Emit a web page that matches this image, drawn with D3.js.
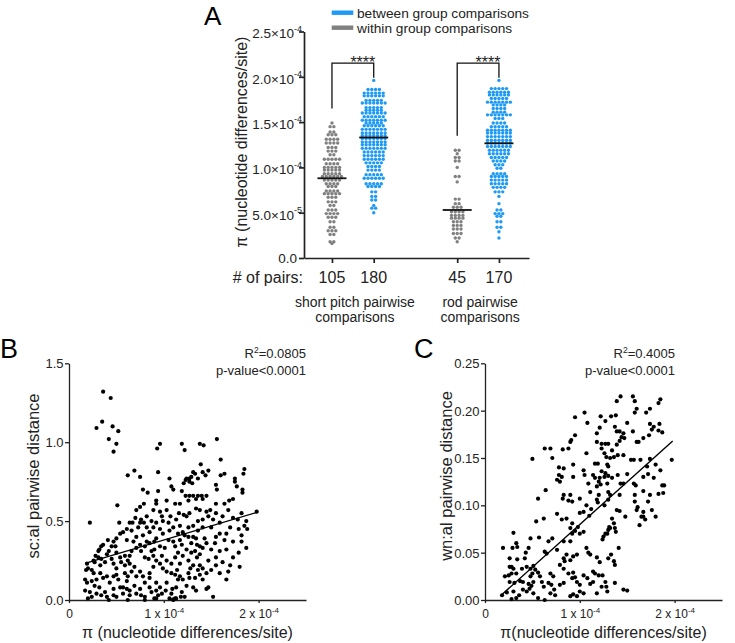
<!DOCTYPE html>
<html><head><meta charset="utf-8">
<script src="https://cdn.jsdelivr.net/npm/d3@7"></script>
<style>body{margin:0;background:#fff}svg{display:block}</style>
</head><body><svg id="c" width="735" height="643"></svg>
<script>
// ---------------- DATA ----------------
// Panel A: π values in units of 1e-6 nucleotide differences/site
const spWithin = [149,145,145,139,139,136,136,136,131,131,131,131,127,127,127,127,122,122,122,118,118,118,114,114,
109,109,109,109,109,104,104,104,104,100,100,100,100,100,97,97,97,97,97,93,93,93,93,93,90,90,90,90,90,90,
86,86,86,86,86,82,82,82,82,79,79,79,74,74,74,74,71,71,71,71,71,67,67,67,62,62,62,58,58,53,53,53,
49,49,49,49,45,45,45,40,40,34,34,30,30,30,26,26,18,18,16];
const spBetween = [196,186,186,186,186,182,182,182,182,182,182,179,179,179,179,179,179,174,174,174,174,174,
171,171,171,171,171,171,171,166,166,166,166,166,163,163,163,163,163,160,160,160,160,160,160,160,
156,156,156,156,156,156,152,152,152,152,152,152,152,149,149,149,149,149,146,146,146,146,146,146,
142,142,142,142,142,142,142,138,138,138,138,138,138,138,135,135,135,135,135,135,135,
132,132,132,132,132,132,132,128,128,128,128,128,128,128,125,125,125,125,125,125,125,
121,121,121,121,121,121,121,117,117,117,117,117,117,113,113,113,113,113,113,109,109,109,109,109,109,
105,105,105,105,105,101,101,101,101,97,97,97,97,92,92,92,92,92,88,88,88,88,88,88,
82,82,82,82,82,79,79,79,79,73,73,68,68,64,64,58,55,55,50];
const rodWithin = [119,119,115,111,111,107,107,100,90,90,84,65,65,60,60,56,56,56,51,51,51,51,47,47,47,47,
44,44,44,44,40,40,40,36,36,36,32,32,32,27,27,27,22,22,18];
const rodBetween = [196,187,187,187,187,187,183,183,183,183,183,183,180,180,180,180,180,180,176,176,176,176,176,
172,172,172,172,172,172,172,169,169,169,169,165,165,165,165,161,161,161,161,158,158,158,158,158,158,158,
154,154,154,149,149,149,149,145,145,145,145,145,141,141,141,141,141,141,141,138,138,138,138,138,138,138,
134,134,134,134,134,134,134,130,130,130,130,130,130,130,127,127,127,127,127,127,127,123,123,123,123,123,123,123,
119,119,119,119,119,119,115,115,115,115,115,115,111,111,111,111,111,107,107,107,107,103,103,103,99,99,
93,93,93,93,90,90,90,90,90,86,86,86,86,86,82,82,82,82,82,78,78,78,78,73,73,73,68,60,53,53,49,49,49,46,46,40,40,34,34,29,22];
const groupsA = [spWithin, spBetween, rodWithin, rodBetween];
const groupPos = [1, 2, 4, 5];
const groupKind = ["within", "between", "within", "between"];
const meansA = [88, 133, 53, 126.6];
const yTicksA = [0, 50, 100, 150, 200, 250];
const yTickLabelsA = [["0.0",""],["5.0×10","-5"],["1.0×10","-4"],["1.5×10","-4"],["2.0×10","-4"],["2.5×10","-4"]];
const categoryLabels = [["short pitch pairwise","comparisons"],["rod pairwise","comparisons"]];
const categoryCenters = [1.55, 4.55];
const legendItems = [["between group comparisons","between"],["within group comparisons","within"]];
const brackets = [{a:0,b:1,low:[165,199],top:215},{a:2,b:3,low:[135,199],top:215}];

// Panel B: [π (1e-6), sc:al pairwise distance]
const scatterB = [[36,1.32],[44,1.28],[35,1.13],[29,1.09],[46,1.10],[52,1.07],[42,1.02],[50,0.99],[47,0.94],[62,0.79],[69,0.82],[75,0.78],[93,0.96],[96,0.99],[94,0.81],[106,0.77],[119,0.99],[122,0.95],[138,0.99],[142,0.98],[156,1.02],[160,0.89],[139,0.86],[141,0.81],[147,0.82],[144,0.79],[131,0.81],[133,0.80],[124,0.77],[127,0.77],[129,0.78],[136,0.77],[164,0.80],[160,0.79],[175,0.77],[184,0.80],[185,0.83],
[108,0.72],[121,0.74],[123,0.76],[127,0.75],[130,0.74],[78,0.70],[94,0.69],[83,0.68],[110,0.70],[119,0.69],[123,0.66],[127,0.66],[131,0.66],[136,0.66],[140,0.66],[145,0.66],[155,0.73],[156,0.70],[175,0.75],[177,0.72],[183,0.70],[183,0.68],[169,0.63],[173,0.64],[164,0.61],[155,0.61],[141,0.64],[134,0.64],[126,0.63],[117,0.61],[112,0.61],[103,0.63],[92,0.63],[92,0.61],[79,0.61],[75,0.59],[71,0.57],[51,0.60],
[22,0.49],[53,0.49],[64,0.49],[67,0.49],[76,0.51],[79,0.49],[82,0.53],[87,0.50],[89,0.57],[96,0.56],[103,0.57],[107,0.53],[113,0.51],[116,0.55],[121,0.54],[124,0.53],[127,0.55],[134,0.58],[138,0.57],[145,0.56],[149,0.57],[155,0.55],[162,0.53],[168,0.57],[173,0.52],[178,0.51],[182,0.55],[187,0.50],[198,0.56],[185,0.47],[179,0.45],[188,0.45],[182,0.41],[173,0.37],[182,0.37],[187,0.33],[180,0.21],[166,0.32],[155,0.40],[159,0.42],[150,0.46],[141,0.46],[136,0.44],[131,0.40],[134,0.39],[129,0.36],[135,0.35],[138,0.34],[141,0.33],[126,0.40],[120,0.43],[122,0.41],[115,0.42],[110,0.46],[105,0.49],[106,0.44],[99,0.42],[96,0.45],[92,0.39],[90,0.37],[85,0.43],[82,0.37],[85,0.36],[80,0.34],[75,0.35],[71,0.33],[66,0.31],[64,0.28],[61,0.38],[54,0.42],[41,0.38],[45,0.34],[49,0.34],[42,0.31],[32,0.32],[31,0.31],[28,0.28],[26,0.25],[27,0.24],[19,0.23],[20,0.20],[18,0.19],[24,0.19],[33,0.22],[38,0.24],[45,0.26],[47,0.23],[50,0.20],[55,0.24],[59,0.22],[64,0.23],[69,0.21],[75,0.18],[78,0.15],[85,0.17],[85,0.14],[89,0.21],[96,0.23],[98,0.28],[101,0.33],[103,0.25],[108,0.23],[112,0.27],[114,0.19],[117,0.23],[120,0.28],[124,0.32],[126,0.25],[128,0.20],[131,0.22],[135,0.27],[138,0.22],[141,0.20],[147,0.25],[155,0.27],[159,0.17],[166,0.13],[168,0.18],[173,0.27],[179,0.30],
[17,0.13],[19,0.11],[24,0.12],[17,0.06],[22,0.05],[27,0.09],[29,0.04],[34,0.03],[38,0.05],[40,0.02],[43,0.11],[47,0.07],[52,0.13],[54,0.08],[57,0.04],[61,0.12],[64,0.06],[64,0.03],[69,0.09],[75,0.07],[80,0.11],[85,0.08],[87,0.05],[92,0.11],[92,0.06],[94,0.03],[92,0.01],[96,0.08],[98,0.04],[103,0.11],[102,0.06],[108,0.04],[112,0.01],[109,0.07],[113,0.08],[115,0.13],[119,0.05],[122,0.02],[124,0.09],[127,0.14],[131,0.08],[134,0.06],[136,0.19],[138,0.16],[145,0.07],[147,0.08],[152,0.02],[106,0.01],[110,0.004],
[26,0.17],[33,0.17],[36,0.14],[40,0.15],[29,0.13],[32,0.08],[47,0.15],[50,0.16],[59,0.17],[62,0.15],[66,0.18],[71,0.15],[57,0.08],[61,0.07],[71,0.04],[76,0.03],[80,0.02],[47,0.03],[50,0.02],[24,0.02],[20,0.01],
[66,0.44],[73,0.46],[78,0.41],[71,0.40],[68,0.37],[87,0.31],[90,0.32],[96,0.34],[105,0.38],[110,0.37],[112,0.34],[115,0.30],[119,0.35],[117,0.38],[129,0.30],[133,0.31],[138,0.29],[143,0.39],[145,0.36],[150,0.32],[154,0.36],[159,0.31],[164,0.38],[166,0.42],[170,0.46],[159,0.49],[152,0.51],[147,0.53],[141,0.51],[136,0.50],[131,0.47],[126,0.46],[117,0.47],[99,0.50],[98,0.53],[92,0.49],[89,0.46],[82,0.46],[75,0.49],[70,0.52],[61,0.45],[57,0.43],[50,0.39],[47,0.37],[36,0.35],[34,0.34],[31,0.27],[34,0.26],[40,0.29],[50,0.30],[54,0.27],[59,0.28],[62,0.25],[76,0.31],[80,0.27],[84,0.26],[89,0.28],[92,0.25],[99,0.20],[103,0.18],[108,0.17],[112,0.16],[117,0.15],[120,0.13],[126,0.17],[133,0.14],[141,0.13],[145,0.17],[150,0.19],[155,0.22],[162,0.24],[170,0.22],
[80,0.0],[90,0.01],[110,0.0],[113,0.01],[118,0.02],[42,0.0],[62,0.0]];
const fitB = [[17,0.232],[198,0.555]];

// Panel C: [π (1e-6), wn:al pairwise distance]
const scatterC = [[143,0.215],[139,0.210],[156,0.215],[158,0.210],[160,0.202],[158,0.198],[170,0.198],[174,0.202],[185,0.212],[183,0.208],[105,0.198],[95,0.193],[108,0.187],[122,0.194],[127,0.189],[121,0.182],[133,0.194],[138,0.195],[150,0.187],[137,0.183],[139,0.178],[142,0.178],[146,0.176],[144,0.172],[156,0.178],[167,0.171],[173,0.174],[174,0.186],[178,0.183],[176,0.180],[184,0.186],[183,0.179],[187,0.177],[118,0.176],[123,0.165],[127,0.165],[130,0.165],[118,0.167],[160,0.167],[162,0.167],[95,0.174],[90,0.167],[91,0.169],[63,0.160],[69,0.160],[82,0.159],[88,0.160],[107,0.155],[123,0.160],[126,0.155],[128,0.151],[134,0.158],[139,0.164],[142,0.168],[147,0.171],[132,0.150],[136,0.151],[140,0.153],[146,0.153],[154,0.148],[157,0.148],[164,0.148],[50,0.149],[71,0.150],[197,0.148],[174,0.149],[180,0.143],[171,0.141],[185,0.137],[78,0.140],[83,0.139],[93,0.143],[116,0.144],[119,0.144],[78,0.132],[81,0.130],[76,0.127],[79,0.125],[93,0.130],[104,0.137],[105,0.132],[114,0.132],[116,0.129],[123,0.136],[127,0.134],[121,0.129],[126,0.130],[130,0.131],[134,0.129],[129,0.143],[130,0.141],[122,0.122],[120,0.125],[129,0.123],[140,0.132],[143,0.123],[146,0.123],[150,0.133],[157,0.123],[159,0.121],[167,0.130],[172,0.133],[178,0.129],[187,0.121],[189,0.121],[64,0.116],[83,0.111],[90,0.111],[109,0.123],[111,0.114],[118,0.120],[120,0.111],[130,0.114],[132,0.111],[142,0.111],[158,0.111],[167,0.115],[174,0.111],[183,0.112],[188,0.113],[56,0.107],
[82,0.107],[88,0.105],[92,0.104],[100,0.107],[107,0.100],[112,0.096],[118,0.106],[119,0.103],[126,0.100],[130,0.106],[139,0.095],[142,0.094],[134,0.086],[136,0.081],[131,0.077],[130,0.074],[129,0.070],[148,0.088],[158,0.104],[161,0.098],[160,0.095],[167,0.093],[167,0.088],[163,0.079],[172,0.104],[176,0.095],[180,0.088],[76,0.091],[81,0.085],[62,0.086],[54,0.083],[86,0.086],[92,0.081],[95,0.073],[92,0.070],[90,0.076],[100,0.070],[83,0.062],[90,0.062],[71,0.065],[67,0.062],[57,0.066],[48,0.065],[76,0.053],[63,0.051],[65,0.049],[46,0.055],[43,0.050],[33,0.060],[19,0.055],[29,0.055],[26,0.044],[34,0.043],[42,0.044],[107,0.055],[109,0.050],[111,0.048],[118,0.045],[121,0.040],[130,0.044],[133,0.048],[136,0.041],[137,0.037],[141,0.055],[86,0.048],[83,0.044],[84,0.041],[90,0.042],[93,0.046],[97,0.048],[79,0.037],[83,0.033],[88,0.028],[93,0.029],[92,0.023],[95,0.024],[97,0.019],[100,0.016],[104,0.026],[108,0.023],[111,0.017],[114,0.019],[120,0.026],[124,0.026],[114,0.030],[116,0.028],[129,0.009],[118,0.007],[100,0.009],[104,0.007],[90,0.004],[97,0.004],[93,0.006],[146,0.011],[150,0.010],[74,0.005],[69,0.007],[63,0.000],[56,0.002],[51,0.007],[44,0.009],[47,0.012],[49,0.015],[40,0.011],[36,0.005],[30,0.009],[33,0.002],[28,0.001],[23,0.008],[18,0.005],[37,0.020],[40,0.019],[31,0.018],[26,0.019],[33,0.028],[28,0.028],[21,0.025],[25,0.026],[48,0.025],[50,0.028],[53,0.032],[56,0.029],[58,0.025],[44,0.035],[48,0.033],[51,0.036],[39,0.033],[26,0.035],[28,0.035],[30,0.033],[69,0.028],[72,0.025],[67,0.018],[70,0.016],[73,0.011],[79,0.016],[83,0.018],[60,0.019],[62,0.014],[46,0.017],[51,0.019],[123,0.014],[127,0.019],[128,0.014],[137,0.018],[30,0.071],[34,0.056],
[165,0.088],[169,0.085],[137,0.076],[138,0.072],[127,0.070],[125,0.067],[124,0.064],[132,0.076],[100,0.092],[104,0.093],[110,0.089],[98,0.077],[104,0.072]];
const fitC = [[17,0.005],[198,0.168]];

const xTicksBC = [0, 100, 200];
const xTickLabelsBC = [["0",""],["1 x 10","-4"],["2 x 10","-4"]];
const yTicksB = [0, 0.5, 1.0, 1.5];
const yTickLabelsB = ["0.0","0.5","1.0","1.5"];
const yTicksC = [0, 0.05, 0.10, 0.15, 0.20, 0.25];
const yTickLabelsC = ["0.00","0.05","0.10","0.15","0.20","0.25"];
const statsB = ["R²=0.0805", "p-value<0.0001"];
const statsC = ["R²=0.4005", "p-value<0.0001"];

// ---------------- DRAW ----------------
const COL = {between: "#1e9af5", within: "#808080"};
const INK = "#222";
const svg = d3.select("#c").attr("font-family", '"Liberation Sans", Arial, sans-serif');

function styleAxis(g, w) {
  g.attr("font-family", null).attr("font-size", null);
  g.select(".domain").attr("stroke", INK).attr("stroke-width", w);
  g.selectAll(".tick line").attr("stroke", INK).attr("stroke-width", w);
  g.selectAll(".tick text").remove();
}
function supLabel(t, base, sup, supSize, rise) {
  t.append("tspan").text(base);
  if (sup) t.append("tspan").attr("font-size", supSize).attr("dy", -rise).text(sup);
}

// ----- Panel A -----
const yA = d3.scaleLinear().domain([0, 250]).range([258, 31.5]);
const xA = d3.scaleLinear().domain([0.33, 5.72]).range([304, 529]);
const gA = svg.append("g");

gA.append("text").attr("x", 204).attr("y", 25).attr("font-size", 26).text("A");

const ayA = gA.append("g").attr("transform", "translate(304,0)")
  .call(d3.axisLeft(yA).tickValues(yTicksA).tickSize(5).tickSizeOuter(0).tickFormat(""));
styleAxis(ayA, 1.7);
ayA.selectAll(".tick").each(function(d, i) {
  const lab = yTickLabelsA[i];
  const t = d3.select(this).append("text")
    .attr("x", lab[1] ? -2 : -7).attr("y", lab[1] ? 6.3 : 4.8)
    .attr("text-anchor", "end").attr("font-size", 13.5).attr("fill", INK);
  supLabel(t, lab[0], lab[1], 9, 6.5);
});
const axA = gA.append("g").attr("transform", "translate(0,258)")
  .call(d3.axisBottom(xA).tickValues(groupPos).tickSize(5).tickSizeOuter(0).tickFormat(""));
styleAxis(axA, 1.7);

gA.append("text").attr("transform", "translate(247,142) rotate(-90)")
  .attr("text-anchor", "middle").attr("font-size", 16).attr("fill", INK)
  .text("π (nucleotide differences/site)");

// scatter-dot-plot layout: points sharing a value form a centred horizontal row
function rowLayout(vals, D) {
  const out = [];
  for (const [v, arr] of d3.group(vals, d => d)) {
    arr.forEach((_, j) => out.push({x: (j - (arr.length - 1) / 2) * D, y: yA(v)}));
  }
  return out;
}
groupsA.forEach((vals, i) => {
  const cx = xA(groupPos[i]);
  gA.append("g").selectAll("circle").data(rowLayout(vals, 3.8)).join("circle")
    .attr("cx", d => cx + d.x).attr("cy", d => d.y).attr("r", 1.7)
    .attr("fill", COL[groupKind[i]]);
  gA.append("line").attr("x1", cx - 14.5).attr("x2", cx + 14.5)
    .attr("y1", yA(meansA[i])).attr("y2", yA(meansA[i]))
    .attr("stroke", "#111").attr("stroke-width", 1.8);
  gA.append("text").attr("x", cx).attr("y", 282.5).attr("text-anchor", "middle")
    .attr("font-size", 16).attr("fill", INK).text(vals.length);
});
gA.append("text").attr("x", 303).attr("y", 282.5).attr("text-anchor", "end")
  .attr("font-size", 16).attr("fill", INK).text("# of pairs:");
categoryLabels.forEach((lines, i) => {
  lines.forEach((s, j) => {
    gA.append("text").attr("x", xA(categoryCenters[i])).attr("y", 306.5 + j * 15.5)
      .attr("text-anchor", "middle").attr("font-size", 14).attr("fill", INK).text(s);
  });
});
brackets.forEach(b => {
  const x1 = xA(groupPos[b.a]), x2 = xA(groupPos[b.b]);
  gA.append("path").attr("fill", "none").attr("stroke", "#111").attr("stroke-width", 1.3)
    .attr("d", `M${x1},${yA(b.low[0])}V${yA(b.top)}H${x2}V${yA(b.low[1])}`);
  gA.append("text").attr("x", (x1 + x2) / 2 + 10).attr("y", yA(b.top) + 4.5)
    .attr("text-anchor", "middle").attr("font-size", 16).attr("fill", INK).text("****");
});
legendItems.forEach((it, i) => {
  const yy = 12.7 + i * 15;
  gA.append("rect").attr("x", 331.7).attr("y", yy - 2.2).attr("width", 21.6).attr("height", 4.4)
    .attr("fill", COL[it[1]]);
  gA.append("text").attr("x", 357).attr("y", yy + 4.8).attr("font-size", 13.7).attr("fill", INK).text(it[0]);
});

// ----- Panels B and C -----
function scatterPanel(o) {
  const x = d3.scaleLinear().domain([0, 250]).range(o.xr);
  const y = d3.scaleLinear().domain(o.yd).range([600, 363.3]);
  const g = svg.append("g");
  g.append("text").attr("x", o.letterX).attr("y", 358).attr("font-size", 27).text(o.letter);
  const ay = g.append("g").attr("transform", `translate(${o.xr[0]},0)`)
    .call(d3.axisLeft(y).tickValues(o.yt).tickSize(4).tickSizeOuter(0).tickFormat(""));
  styleAxis(ay, 1.3);
  ay.selectAll(".tick").append("text").attr("x", -5.5).attr("y", 4.5).attr("text-anchor", "end")
    .attr("font-size", 13).attr("fill", INK).text((d, i) => o.ytl[i]);
  const ax = g.append("g").attr("transform", "translate(0,600)")
    .call(d3.axisBottom(x).tickValues(xTicksBC).tickSize(3).tickSizeOuter(0).tickFormat(""));
  styleAxis(ax, 1.3);
  ax.selectAll(".tick").each(function(d, i) {
    const lab = xTickLabelsBC[i];
    const t = d3.select(this).append("text").attr("y", 17.5).attr("text-anchor", "middle")
      .attr("font-size", 12).attr("fill", INK);
    supLabel(t, lab[0], lab[1], 8, 5);
  });
  g.append("g").selectAll("circle").data(o.pts).join("circle")
    .attr("cx", d => x(d[0])).attr("cy", d => y(d[1])).attr("r", 2.1).attr("fill", "#000");
  g.append("line").attr("x1", x(o.fit[0][0])).attr("y1", y(o.fit[0][1]))
    .attr("x2", x(o.fit[1][0])).attr("y2", y(o.fit[1][1]))
    .attr("stroke", "#000").attr("stroke-width", 1.4);
  const xm = (o.xr[0] + o.xr[1]) / 2;
  g.append("text").attr("x", xm).attr("y", 637.5).attr("text-anchor", "middle")
    .attr("font-size", 16).attr("fill", INK).text(o.xlab);
  g.append("text").attr("transform", `translate(${o.ylabX},476) rotate(-90)`)
    .attr("text-anchor", "middle").attr("font-size", 16.5).attr("fill", INK).text(o.ylab);
  o.stats.forEach((s, i) => {
    const t = g.append("text").attr("x", o.statsX).attr("y", 357.5 + i * 17.5)
      .attr("text-anchor", "end").attr("font-size", 13).attr("fill", INK);
    if (s.startsWith("R²")) {
      t.append("tspan").text("R");
      t.append("tspan").attr("font-size", 8.5).attr("dy", -5).text("2");
      t.append("tspan").attr("dy", 5).text(s.slice(2));
    } else t.text(s);
  });
}
scatterPanel({letter: "B", letterX: 0, xr: [69, 306], yd: [0, 1.5], yt: yTicksB, ytl: yTickLabelsB,
  pts: scatterB, fit: fitB, xlab: "π (nucleotide differences/site)", ylab: "sc:al pairwise distance",
  ylabX: 39, stats: statsB, statsX: 306});
scatterPanel({letter: "C", letterX: 414, xr: [485, 722], yd: [0, 0.25], yt: yTicksC, ytl: yTickLabelsC,
  pts: scatterC, fit: fitC, xlab: "π(nucleotide differences/site)", ylab: "wn:al pairwise distance",
  ylabX: 452, stats: statsC, statsX: 675});
</script>
</body></html>
